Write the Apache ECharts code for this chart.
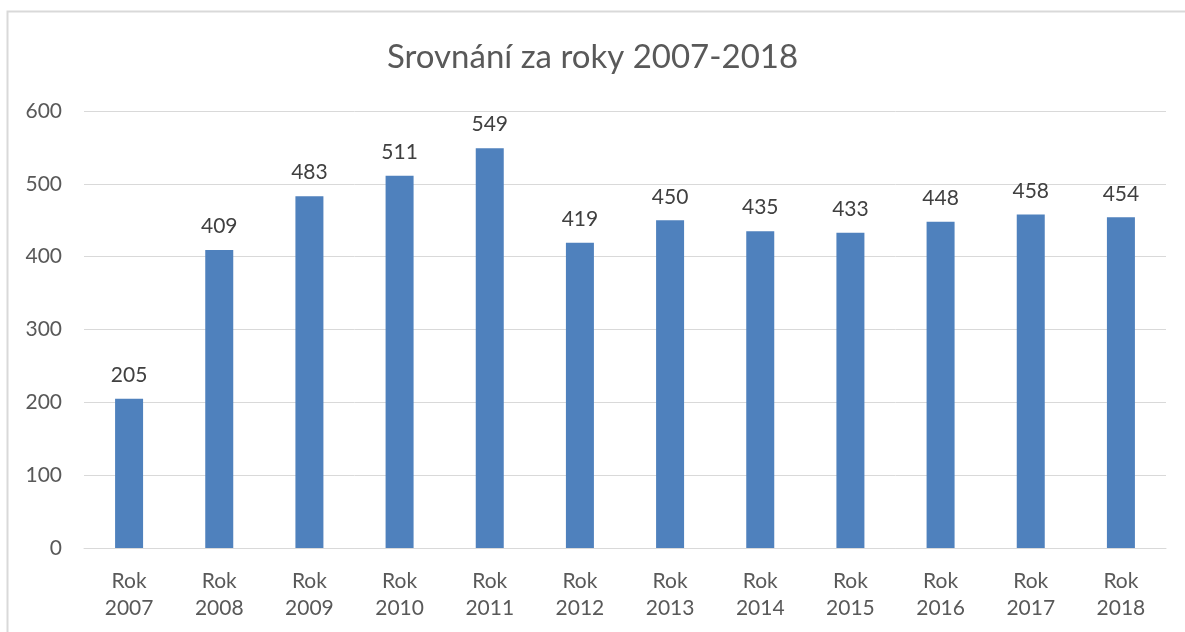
<!DOCTYPE html>
<html>
<head>
<meta charset="utf-8">
<script src="https://cdn.jsdelivr.net/npm/echarts@6/dist/echarts.min.js"></script>
<style>
  html, body { margin: 0; padding: 0; background: #fff; }
  #main { width: 1185px; height: 632px; }
</style>
</head>
<body>
<div id="main"></div>
<script>
// data
var years = ['2007', '2008', '2009', '2010', '2011', '2012', '2013', '2014', '2015', '2016', '2017', '2018'];
var counts = [205, 409, 483, 511, 549, 419, 450, 435, 433, 448, 458, 454];
var yTicks = [0, 100, 200, 300, 400, 500, 600];

var categories = years.map(function (y) { return 'Rok\n' + y; });

var myChart = echarts.init(document.getElementById('main'));
var font = 'Lato, "Open Sans", sans-serif';

var option = {
    animation: false,
    backgroundColor: '#fff',
    title: {
        text: 'Srovnání za roky 2007-2018',
        left: 'center',
        top: 36,
        textStyle: { color: '#595959', fontSize: 33, fontWeight: 'normal', fontFamily: font }
    },
    graphic: [{
        type: 'rect',
        shape: { x: 7.5, y: 11.5, width: 1200, height: 700 },
        style: { fill: 'none', stroke: '#d9d9d9', lineWidth: 2 },
        silent: true
    }],
    grid: { left: 84, right: 19, top: 111, bottom: 84 },
    xAxis: {
        type: 'category',
        data: categories,
        axisLine: { lineStyle: { color: '#d9d9d9' } },
        axisTick: { show: false },
        axisLabel: { color: '#595959', fontSize: 21, fontFamily: font, lineHeight: 27, margin: 20 }
    },
    yAxis: {
        type: 'value',
        min: yTicks[0],
        max: yTicks[yTicks.length - 1],
        interval: 100,
        axisLine: { show: false },
        axisTick: { show: false },
        splitLine: { lineStyle: { color: '#d9d9d9' } },
        axisLabel: { color: '#595959', fontSize: 21, fontFamily: font, margin: 22 }
    },
    series: [{
        type: 'bar',
        data: counts,
        barWidth: 28,
        itemStyle: { color: '#4f81bd' },
        label: {
            show: true,
            position: 'top',
            distance: 13,
            color: '#404040',
            fontSize: 21,
            fontFamily: font
        }
    }]
};
myChart.setOption(option);
</script>
</body>
</html>
